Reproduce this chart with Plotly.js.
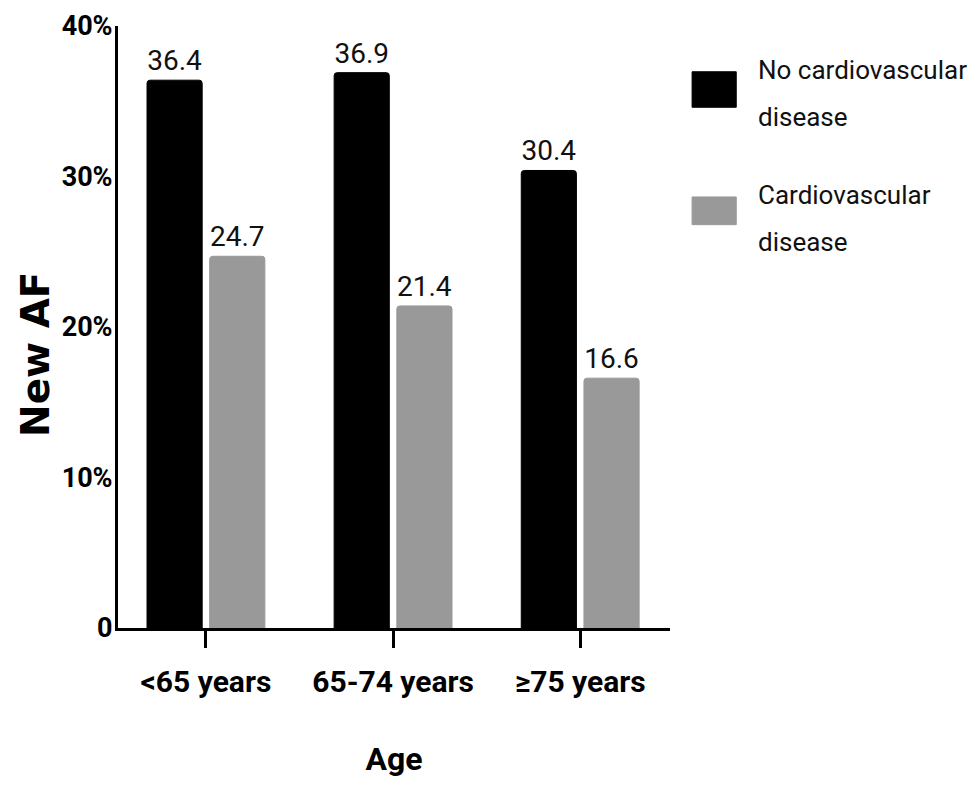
<!DOCTYPE html>
<html>
<head>
<meta charset="utf-8">
<script src="https://cdn.plot.ly/plotly-3.0.1.min.js"></script>
<style>html,body{margin:0;padding:0;background:#fff;}#chart{width:978px;height:788px;}</style>
</head>
<body>
<div id="chart"></div>
<script>
const categories = ['<65 years', '65-74 years', '≥75 years'];
const noCvd = [36.4, 36.9, 30.4];
const cvd = [24.7, 21.4, 16.6];
const seriesNames = ['No cardiovascular<br>disease', 'Cardiovascular<br>disease'];
const yTickVals = [0, 10, 20, 30, 40];
const yTickText = ['0', '10%', '20%', '30%', '40%'];
const xTitle = 'Age';
const yTitle = 'New AF';

const narrow = 'Roboto, "DejaVu Sans Condensed", sans-serif';

const traces = [
  {
    type: 'bar', name: seriesNames[0], x: categories, y: noCvd,
    marker: {color: '#000000', line: {color: '#000000', width: 1}, cornerradius: 3},
    text: noCvd.map(v => v.toFixed(1)), textposition: 'outside', cliponaxis: false,
    textfont: {family: narrow, size: 28, color: '#111111'}
  },
  {
    type: 'bar', name: seriesNames[1], x: categories, y: cvd,
    marker: {color: '#999999', line: {color: '#999999', width: 1}, cornerradius: 3},
    text: cvd.map(v => v.toFixed(1)), textposition: 'outside', cliponaxis: false,
    textfont: {family: narrow, size: 28, color: '#111111'}
  }
];

const legendColors = ['#000000', '#999999'];
const boxY = [[0.865, 0.924], [0.670, 0.716]];
const lineY = [[0.927, 0.849], [0.719, 0.641]];
const shapes = [];
const annotations = [];
seriesNames.forEach((name, i) => {
  shapes.push({type: 'rect', xref: 'paper', yref: 'paper', x0: 1.04, x1: 1.12, y0: boxY[i][0], y1: boxY[i][1],
    fillcolor: legendColors[i], line: {color: legendColors[i], width: 1}});
  name.split('<br>').forEach((part, j) => {
    annotations.push({xref: 'paper', yref: 'paper', x: 1.156, y: lineY[i][j], xanchor: 'left', yanchor: 'middle',
      align: 'left', showarrow: false, text: part, font: {family: narrow, size: 26, color: '#111111'}});
  });
});
annotations.push({xref: 'paper', yref: 'paper', x: -0.1505, y: 0.455, xanchor: 'center', yanchor: 'middle',
  textangle: -90, showarrow: false, text: yTitle,
  font: {family: '"DejaVu Sans", sans-serif', size: 39, color: '#000000', weight: 'bold'}});

const layout = {
  width: 978, height: 788,
  margin: {l: 118, r: 308, t: 26, b: 160},
  paper_bgcolor: '#ffffff', plot_bgcolor: '#ffffff',
  showlegend: false,
  barmode: 'group', bargap: 0.33, bargroupgap: 0.12,
  xaxis: {
    range: [-0.47, 2.48], showgrid: false, zeroline: false,
    showline: true, linecolor: '#000000', linewidth: 3,
    ticks: 'outside', ticklen: 17, tickwidth: 3, tickcolor: '#000000',
    ticklabelstandoff: 8,
    tickfont: {family: narrow, size: 30, color: '#000000', weight: 'bold'},
    title: {text: xTitle, font: {family: narrow, size: 32, color: '#000000', weight: 'bold'}, standoff: 50}
  },
  yaxis: {
    range: [0, 40], showgrid: false, zeroline: false,
    showline: true, linecolor: '#000000', linewidth: 3,
    ticks: '', tickvals: yTickVals, ticktext: yTickText,
    ticklabelstandoff: -3,
    tickfont: {family: narrow, size: 27, color: '#000000', weight: 'bold'}
  },
  shapes: shapes,
  annotations: annotations
};

Plotly.newPlot('chart', traces, layout, {displayModeBar: false});
</script>
</body>
</html>
